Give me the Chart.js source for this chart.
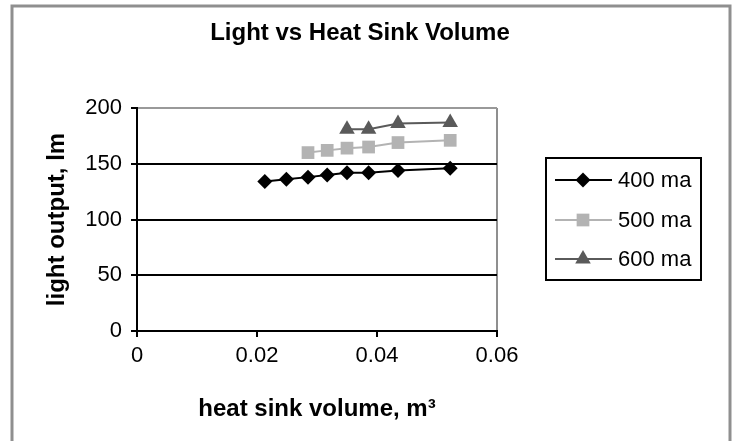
<!DOCTYPE html>
<html>
<head>
<meta charset="utf-8">
<script src="https://cdn.jsdelivr.net/npm/chart.js@4.4.1/dist/chart.umd.min.js"></script>
<style>
  html, body { margin: 0; padding: 0; background: #ffffff; }
  #wrap { width: 737px; height: 441px; position: relative; }
</style>
</head>
<body>
<div id="wrap"><canvas id="c" width="737" height="441"></canvas></div>
<script>
// ---- data ----
const chartTitle = 'Light vs Heat Sink Volume';
const xAxisTitle = 'heat sink volume, m\u00B3';
const yAxisTitle = 'light output, lm';
const seriesNames = ['400 ma', '500 ma', '600 ma'];

const volumes400 = [0.0213, 0.0249, 0.0285, 0.0317, 0.0350, 0.0386, 0.0435, 0.0522];
const light400   = [134, 136, 138, 140, 142, 142, 144, 146];

const volumes500 = [0.0285, 0.0317, 0.0350, 0.0386, 0.0435, 0.0522];
const light500   = [160, 162, 164, 165, 169, 171];

const volumes600 = [0.0350, 0.0386, 0.0435, 0.0522];
const light600   = [181, 181, 186, 187];

const xTickLabels = ['0', '0.02', '0.04', '0.06'];
const yTickLabels = ['0', '50', '100', '150', '200'];

// ---- build ----
const FONT = "'Liberation Sans', Arial, Helvetica, sans-serif";
const W = 737, H = 441;
const PLOT_LEFT = 137, PLOT_RIGHT = 497, PLOT_BOTTOM = 331;
const PAD_RIGHT = 17;

function pts(xs, ys) { return xs.map((x, i) => ({ x: x, y: ys[i] })); }

const styles = [
  { color: '#000000', pointStyle: 'rectRot', radius: 7.5 },
  { color: '#b3b3b3', pointStyle: 'rect', radius: 9 },
  { color: '#5a5a5a', pointStyle: 'triangle', radius: 9 }
];
const seriesData = [pts(volumes400, light400), pts(volumes500, light500), pts(volumes600, light600)];

const datasets = seriesData.map((d, i) => ({
  label: seriesNames[i],
  data: d,
  showLine: true,
  borderColor: styles[i].color,
  backgroundColor: styles[i].color,
  borderWidth: 2,
  pointStyle: styles[i].pointStyle,
  pointRadius: styles[i].radius,
  pointHoverRadius: styles[i].radius,
  pointBorderWidth: 0,
  pointBackgroundColor: styles[i].color,
  pointBorderColor: styles[i].color,
  xAxisID: 'x',
  yAxisID: 'y'
}));

const framePlugin = {
  id: 'frame',
  beforeDraw(chart) {
    const ctx = chart.ctx;
    ctx.save();
    ctx.fillStyle = '#ffffff';
    ctx.fillRect(0, 0, W, H);
    ctx.strokeStyle = '#8f8f8f';
    ctx.lineWidth = 3;
    ctx.beginPath();
    ctx.moveTo(12, H + 5);
    ctx.lineTo(12, 6);
    ctx.lineTo(730, 6);
    ctx.lineTo(730, H + 5);
    ctx.stroke();
    ctx.restore();
  }
};

function drawMarker(ctx, style, x, y) {
  if (Chart.helpers && Chart.helpers.drawPoint) {
    ctx.fillStyle = style.color;
    ctx.strokeStyle = style.color;
    ctx.lineWidth = 0.01;
    Chart.helpers.drawPoint(ctx, { pointStyle: style.pointStyle, radius: style.radius, borderWidth: 0, rotation: 0 }, x, y);
  }
}

const legendPlugin = {
  id: 'customLegend',
  afterDraw(chart) {
    const ctx = chart.ctx;
    const bx = 546, by = 158, bw = 155, bh = 122;
    ctx.save();
    ctx.strokeStyle = '#000000';
    ctx.lineWidth = 2;
    ctx.strokeRect(bx, by, bw, bh);
    const rowY = [180, 220, 259];
    chart.data.datasets.forEach((ds, i) => {
      const y = rowY[i];
      ctx.strokeStyle = styles[i].color;
      ctx.lineWidth = 2;
      ctx.beginPath();
      ctx.moveTo(555, y);
      ctx.lineTo(612, y);
      ctx.stroke();
      drawMarker(ctx, styles[i], 583, y);
      ctx.fillStyle = '#000000';
      ctx.font = '22px ' + FONT;
      ctx.textAlign = 'left';
      ctx.textBaseline = 'middle';
      ctx.fillText(ds.label, 618, y + 1);
    });
    ctx.restore();
  }
};

new Chart(document.getElementById('c'), {
  type: 'scatter',
  data: { datasets: datasets },
  plugins: [framePlugin, legendPlugin],
  options: {
    responsive: false,
    animation: false,
    devicePixelRatio: 1,
    layout: { padding: { left: 0, right: PAD_RIGHT, top: 0, bottom: 0 } },
    plugins: {
      legend: { display: false },
      tooltip: { enabled: false },
      title: {
        display: true,
        text: chartTitle,
        color: '#000000',
        font: { family: FONT, size: 24, weight: 'bold' },
        padding: { top: 19, bottom: 60.2 }
      }
    },
    scales: {
      x: {
        type: 'linear',
        position: 'bottom',
        min: 0, max: 0.06,
        afterFit(s) { s.height = H - PLOT_BOTTOM; },
        ticks: {
          stepSize: 0.02,
          color: '#000000',
          padding: 6,
          font: { family: FONT, size: 22 },
          callback: (v, i) => xTickLabels[i]
        },
        grid: {
          drawOnChartArea: true,
          color: (c) => (c.tick && Math.abs(c.tick.value - 0.06) < 1e-9) ? '#8f8f8f' : 'rgba(0,0,0,0)',
          lineWidth: 2,
          tickColor: '#000000',
          tickLength: 6
        },
        border: { display: true, color: '#000000', width: 2 },
        title: {
          display: true,
          text: xAxisTitle,
          color: '#000000',
          font: { family: FONT, size: 24, weight: 'bold' },
          padding: { top: 0, bottom: 17 }
        }
      },
      y: {
        type: 'linear',
        position: 'left',
        min: 0, max: 200,
        afterFit(s) { s.width = PLOT_LEFT; },
        ticks: {
          stepSize: 50,
          color: '#000000',
          padding: 9,
          font: { family: FONT, size: 22 },
          callback: (v, i) => yTickLabels[i]
        },
        grid: {
          color: (c) => (c.tick && c.tick.value === 200) ? '#999999' : '#000000',
          lineWidth: 2,
          tickColor: '#000000',
          tickLength: 6
        },
        border: { display: true, color: '#000000', width: 2 },
        title: {
          display: true,
          text: yAxisTitle,
          color: '#000000',
          font: { family: FONT, size: 24, weight: 'bold' },
          padding: { top: 43, bottom: 0 }
        }
      },
      yR: {
        type: 'linear',
        position: 'right',
        display: true,
        afterFit(s) { s.width = W - PAD_RIGHT - PLOT_RIGHT; },
        ticks: { display: false },
        grid: { display: false, drawTicks: false },
        border: { display: false }
      }
    }
  }
});
</script>
</body>
</html>
